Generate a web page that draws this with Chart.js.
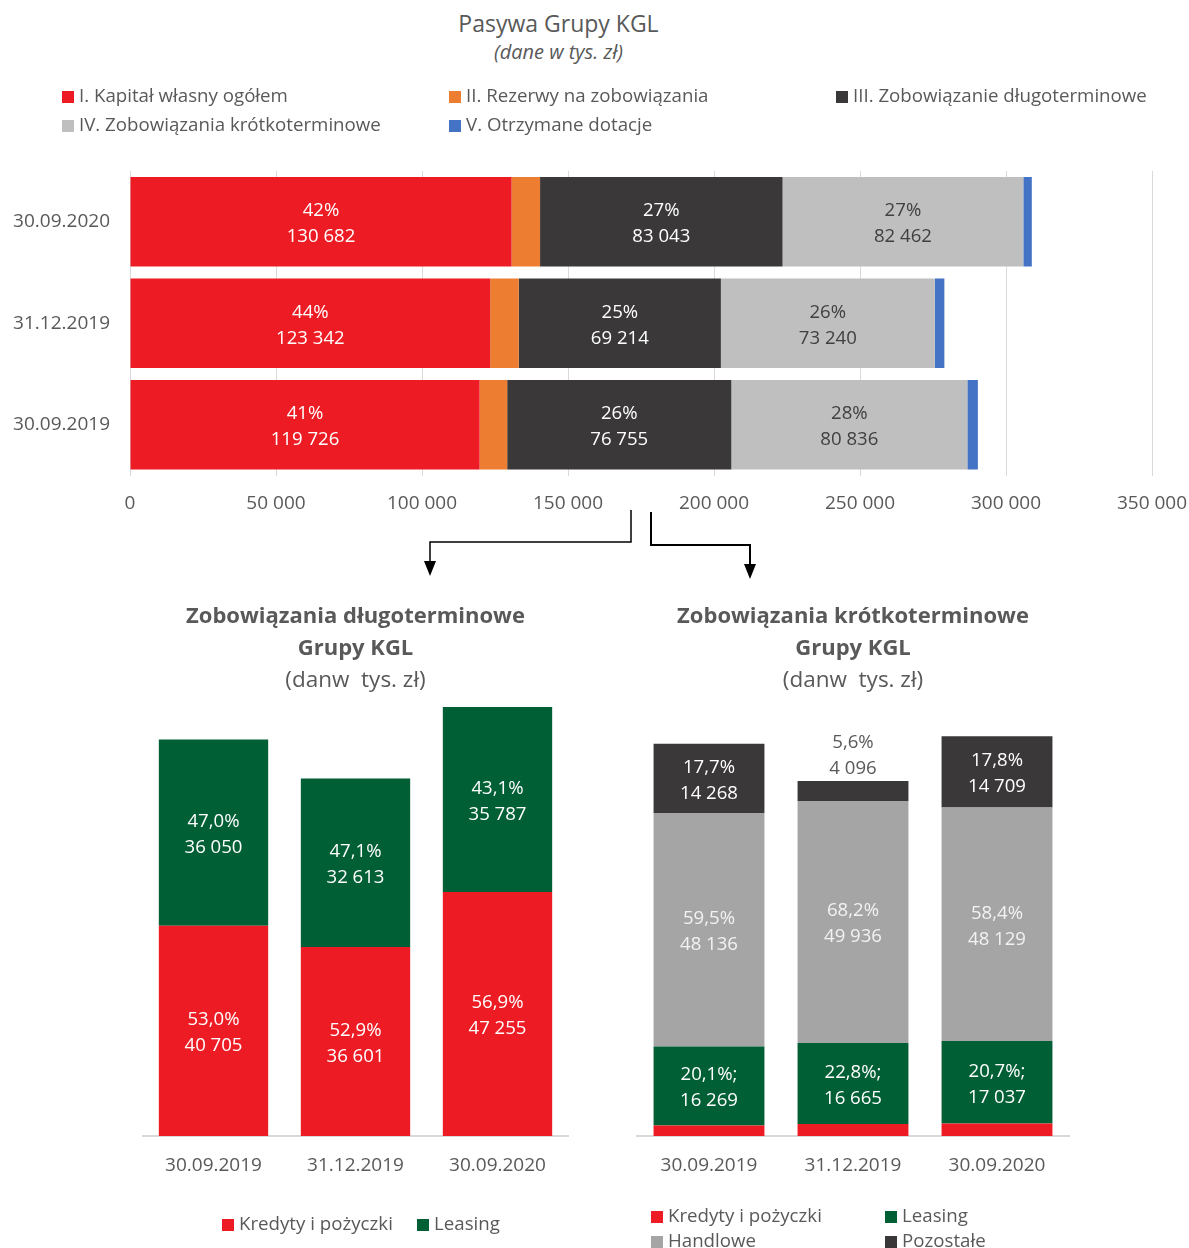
<!DOCTYPE html>
<html>
<head>
<meta charset="utf-8">
<script src="https://cdn.jsdelivr.net/npm/chart.js@4.4.0/dist/chart.umd.min.js"></script>
<style>
  html, body { margin: 0; padding: 0; background: #fff; }
  body { width: 1189px; height: 1248px; position: relative; overflow: hidden; font-family: "Open Sans", sans-serif; color: #595959; }
  canvas { position: absolute; }
  .head { position: absolute; left: 0; width: 1117px; text-align: center; white-space: nowrap; }
  .leg { position: absolute; font-size: 18.7px; line-height: 22px; white-space: nowrap; }
  .leg i { display: inline-block; width: 12px; height: 12px; margin-right: 5px; vertical-align: -1px; }
  svg { position: absolute; left: 0; top: 0; pointer-events: none; }
</style>
</head>
<body>
<div class="head" style="top:8px;font-size:23px;line-height:30px;">Pasywa Grupy KGL</div>
<div class="head" style="top:39px;font-size:20px;line-height:26px;font-style:italic;">(dane w tys. zł)</div>

<canvas id="topChart" width="1189" height="540" style="left:0;top:0;"></canvas>
<canvas id="longChart" width="595" height="620" style="left:0;top:590px;"></canvas>
<canvas id="shortChart" width="594" height="620" style="left:595px;top:590px;"></canvas>

<svg width="1189" height="1248">
  <path d="M631 510 V542 H430 V562" fill="none" stroke="#000" stroke-width="1.5"/>
  <polygon points="424,561 436,561 430,576" fill="#000"/>
  <path d="M651 512 V545 H750 V565" fill="none" stroke="#000" stroke-width="2"/>
  <polygon points="744,564 756,564 750,579" fill="#000"/>
</svg>

<script>
Chart.defaults.font.family = '"Open Sans", sans-serif';
Chart.defaults.font.size = 19;
Chart.defaults.color = '#595959';

// ---------- Pasywa Grupy KGL ----------
const topCategories = ['30.09.2020', '31.12.2019', '30.09.2019'];
const kapitalWlasny = [130682, 123342, 119726];
const rezerwy       = [9750, 9800, 9450];
const zobDlugo      = [83043, 69214, 76755];
const zobKrotko     = [82462, 73240, 80836];
const dotacje       = [2900, 3300, 3600];
const kapitalPct    = ['42%', '44%', '41%'];
const zobDlugoPct   = ['27%', '25%', '26%'];
const zobKrotkoPct  = ['27%', '26%', '28%'];
const topTicks      = [0, 50000, 100000, 150000, 200000, 250000, 300000, 350000];

// ---------- Zobowiązania długoterminowe ----------
const dates = ['30.09.2019', '31.12.2019', '30.09.2020'];
const longKredyty    = [40705, 36601, 47255];
const longLeasing    = [36050, 32613, 35787];
const longKredytyPct = ['53,0%', '52,9%', '56,9%'];
const longLeasingPct = ['47,0%', '47,1%', '43,1%'];

// ---------- Zobowiązania krótkoterminowe ----------
const shortKredyty      = [2180, 2490, 2560];
const shortLeasing      = [16269, 16665, 17037];
const shortHandlowe     = [48136, 49936, 48129];
const shortPozostale    = [14268, 4096, 14709];
const shortLeasingPct   = ['20,1%', '22,8%', '20,7%'];
const shortHandlowePct  = ['59,5%', '68,2%', '58,4%'];
const shortPozostalePct = ['17,7%', '5,6%', '17,8%'];

function fmt(v) {
    return String(v).replace(/\B(?=(\d{3})+(?!\d))/g, ' ');
}

function texts(pcts, vals, sep) {
    return pcts.map((p, i) => p + (sep || '') + '\n' + fmt(vals[i]));
}

// labels in the middle of each segment (goes above the bar when the segment is too thin)
const segLabels = {
    id: 'segLabels',
    afterDatasetsDraw(chart) {
        const ctx = chart.ctx;
        chart.data.datasets.forEach((ds, di) => {
            if (!ds.labelTexts) return;
            const meta = chart.getDatasetMeta(di);
            meta.data.forEach((bar, i) => {
                const txt = ds.labelTexts[i];
                if (!txt) return;
                const p = bar.getCenterPoint();
                let y = p.y + 2;
                let color = ds.labelColor;
                if (chart.options.indexAxis !== 'y' && Math.abs(bar.base - bar.y) < 50) {
                    y = bar.y - 25;
                    color = '#595959';
                }
                const lines = txt.split('\n');
                ctx.save();
                ctx.font = '18.6px "Open Sans", sans-serif';
                ctx.fillStyle = color;
                ctx.textAlign = 'center';
                ctx.textBaseline = 'middle';
                lines.forEach((l, k) => {
                    ctx.fillText(l, p.x, y + (k - (lines.length - 1) / 2) * 26);
                });
                ctx.restore();
            });
        });
    }
};

function htmlLegend(chart, spots) {
    chart.data.datasets.forEach((ds, i) => {
        const d = document.createElement('div');
        d.className = 'leg';
        d.style.left = spots[i][0] + 'px';
        d.style.top = (spots[i][1] - 11) + 'px';
        d.innerHTML = '<i style="background:' + ds.backgroundColor + '"></i>' + ds.label;
        document.body.appendChild(d);
    });
}

/********************** top chart **********************/
const topChart = new Chart(document.getElementById('topChart'), {
    type: 'bar',
    data: {
        labels: topCategories,
        datasets: [
            { label: 'I. Kapitał własny ogółem', data: kapitalWlasny, backgroundColor: '#ED1C24',
              labelTexts: texts(kapitalPct, kapitalWlasny), labelColor: '#ffffff' },
            { label: 'II. Rezerwy na zobowiązania', data: rezerwy, backgroundColor: '#ED7D31' },
            { label: 'III. Zobowiązanie długoterminowe', data: zobDlugo, backgroundColor: '#3A3838',
              labelTexts: texts(zobDlugoPct, zobDlugo), labelColor: '#ffffff' },
            { label: 'IV. Zobowiązania krótkoterminowe', data: zobKrotko, backgroundColor: '#BFBFBF',
              labelTexts: texts(zobKrotkoPct, zobKrotko), labelColor: '#404040' },
            { label: 'V. Otrzymane dotacje', data: dotacje, backgroundColor: '#4472C4' }
        ]
    },
    options: {
        indexAxis: 'y',
        responsive: false,
        animation: false,
        layout: { padding: { top: 171, right: 37, bottom: 7.7, left: 0 } },
        datasets: { bar: { categoryPercentage: 0.88, barPercentage: 1 } },
        plugins: {
            legend: { display: false },
            tooltip: { enabled: false }
        },
        scales: {
            x: {
                stacked: true,
                min: topTicks[0],
                max: topTicks[topTicks.length - 1],
                afterBuildTicks: s => { s.ticks = topTicks.map(v => ({ value: v })); },
                ticks: { padding: 17, callback: v => fmt(v) },
                grid: { color: '#D9D9D9', drawTicks: false },
                border: { display: false },
                afterFit: s => { s.paddingLeft = 0; s.paddingRight = 0; }
            },
            y: {
                stacked: true,
                ticks: { padding: 20 },
                grid: { display: false, drawTicks: false },
                border: { display: false },
                afterFit: s => { s.width = 130; }
            }
        }
    },
    plugins: [segLabels]
});
htmlLegend(topChart, [[62, 95], [449, 95], [836, 95], [62, 124], [449, 124]]);

/********************** bottom charts **********************/
function columnOptions(title, pad, yMax, subBottom) {
    return {
        responsive: false,
        animation: false,
        layout: { padding: pad },
        datasets: { bar: { categoryPercentage: 1, barPercentage: 0.77 } },
        plugins: {
            legend: { display: false },
            tooltip: { enabled: false },
            title: {
                display: true, text: title,
                font: { size: 22, weight: 'bold', lineHeight: 1.4545 },
                padding: { top: 10.75, bottom: 0 }
            },
            subtitle: {
                display: true, text: '(danw  tys. zł)',
                color: '#595959',
                font: { size: 22.5, lineHeight: 1.2 },
                padding: { top: 2.75, bottom: subBottom }
            }
        },
        scales: {
            x: {
                stacked: true,
                grid: { display: false, drawTicks: false },
                border: { color: '#D9D9D9', width: 2 },
                ticks: { padding: 18.5 },
                afterFit: s => { s.paddingLeft = 0; s.paddingRight = 0; }
            },
            y: { stacked: true, display: false, min: 0, max: yMax }
        }
    };
}

const longChart = new Chart(document.getElementById('longChart'), {
    type: 'bar',
    data: {
        labels: dates,
        datasets: [
            { label: 'Kredyty i pożyczki', data: longKredyty, backgroundColor: '#ED1C24',
              labelTexts: texts(longKredytyPct, longKredyty), labelColor: '#ffffff' },
            { label: 'Leasing', data: longLeasing, backgroundColor: '#005F35',
              labelTexts: texts(longLeasingPct, longLeasing), labelColor: '#ffffff' }
        ]
    },
    options: columnOptions(['Zobowiązania długoterminowe', 'Grupy KGL'],
        { left: 142.5, right: 26.5, top: 0, bottom: 14.2 }, 85000, 2.5),
    plugins: [segLabels]
});
htmlLegend(longChart, [[222, 1223], [417, 1223]]);

const shortChart = new Chart(document.getElementById('shortChart'), {
    type: 'bar',
    data: {
        labels: dates,
        datasets: [
            { label: 'Kredyty i pożyczki', data: shortKredyty, backgroundColor: '#ED1C24' },
            { label: 'Leasing', data: shortLeasing, backgroundColor: '#005F35',
              labelTexts: texts(shortLeasingPct, shortLeasing, ';'), labelColor: '#ffffff' },
            { label: 'Handlowe', data: shortHandlowe, backgroundColor: '#A5A5A5',
              labelTexts: texts(shortHandlowePct, shortHandlowe), labelColor: '#F2F2F2' },
            { label: 'Pozostałe', data: shortPozostale, backgroundColor: '#3A3838',
              labelTexts: texts(shortPozostalePct, shortPozostale), labelColor: '#ffffff' }
        ]
    },
    options: columnOptions(['Zobowiązania krótkoterminowe', 'Grupy KGL'],
        { left: 42, right: 120, top: 0, bottom: 14.2 }, 90000, 5),
    plugins: [segLabels]
});
htmlLegend(shortChart, [[651, 1215], [885, 1215], [651, 1240], [885, 1240]]);
</script>
</body>
</html>
